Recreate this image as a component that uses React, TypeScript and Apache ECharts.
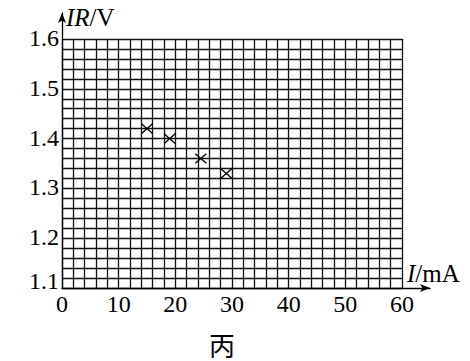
import React, { useEffect, useRef } from "react";
import * as echarts from "echarts";

const currentMA = [15, 19, 24.5, 29];
const irVolts = [1.42, 1.4, 1.36, 1.33];
const xTickValues = [0, 10, 20, 30, 40, 50, 60];
const yTickValues = [1.1, 1.2, 1.3, 1.4, 1.5, 1.6];

const SERIF = "Liberation Serif";

export default function App() {
  const ref = useRef<HTMLDivElement>(null);
  useEffect(() => {
    if (!ref.current) return;
    const chart = echarts.init(ref.current, null, { renderer: "svg" });
    const pts = currentMA.map((x, i) => [x, irVolts[i]]);
    const gridLine = { show: true, lineStyle: { color: "#111", width: 1.3, type: "solid" as const } };
    const arrowLine = {
      show: true,
      onZero: false,
      symbol: ["none", "arrow"],
      symbolSize: [6, 10],
      lineStyle: { color: "#000", width: 1.3 },
    };
    chart.setOption({
      animation: false,
      backgroundColor: "#fff",
      grid: [
        { left: 62, top: 39, width: 340, height: 249, containLabel: false },
        { left: 62, top: 13, width: 368, height: 275, containLabel: false },
      ],
      xAxis: [
        {
          type: "value",
          gridIndex: 0,
          min: 0,
          max: 60,
          interval: 2,
          axisLine: { show: false },
          axisTick: { show: false },
          axisLabel: { show: false },
          splitLine: gridLine,
        },
        {
          type: "value",
          gridIndex: 1,
          min: 0,
          max: 1,
          axisLine: arrowLine,
          axisTick: { show: false },
          axisLabel: { show: false },
          splitLine: { show: false },
        },
      ],
      yAxis: [
        {
          type: "value",
          gridIndex: 0,
          min: 1.1,
          max: 1.6,
          interval: 0.02,
          axisLine: { show: false },
          axisTick: { show: false },
          axisLabel: { show: false },
          splitLine: gridLine,
        },
        {
          type: "value",
          gridIndex: 1,
          min: 0,
          max: 1,
          axisLine: arrowLine,
          axisTick: { show: false },
          axisLabel: { show: false },
          splitLine: { show: false },
        },
      ],
      series: [
        {
          type: "custom",
          xAxisIndex: 0,
          yAxisIndex: 0,
          data: pts,
          renderItem: (params: any, api: any) => {
            const p = api.coord([api.value(0), api.value(1)]);
            const w = 5.5;
            const h = 4.8;
            const st = { stroke: "#000", lineWidth: 1.3 };
            return {
              type: "group",
              children: [
                { type: "line", shape: { x1: p[0] - w, y1: p[1] - h, x2: p[0] + w, y2: p[1] + h }, style: st },
                { type: "line", shape: { x1: p[0] - w, y1: p[1] + h, x2: p[0] + w, y2: p[1] - h }, style: st },
              ],
            };
          },
        },
      ],
    });

    const labels: any[] = [];
    xTickValues.forEach((v) => {
      const p = chart.convertToPixel({ gridIndex: 0 } as any, [v, 1.1]) as number[];
      labels.push({
        type: "text",
        x: p[0],
        y: p[1] + 4,
        style: {
          text: String(v),
          fontFamily: SERIF,
          fontSize: 24,
          fill: "#000",
          textAlign: "center",
          textVerticalAlign: "top",
        },
      });
    });
    yTickValues.forEach((v) => {
      const p = chart.convertToPixel({ gridIndex: 0 } as any, [0, v]) as number[];
      labels.push({
        type: "text",
        x: p[0] - 3,
        y: p[1] - (v === 1.1 ? 7 : 1),
        style: {
          text: v.toFixed(1),
          fontFamily: SERIF,
          fontSize: 24,
          fill: "#000",
          textAlign: "right",
          textVerticalAlign: "middle",
        },
      });
    });
    labels.push(
      {
        type: "text",
        x: 66,
        y: 30,
        style: {
          text: "{i|IR}/V",
          fontFamily: SERIF,
          fontSize: 25,
          fill: "#000",
          textVerticalAlign: "bottom",
          rich: { i: { fontStyle: "italic", fontFamily: SERIF, fontSize: 25 } },
        },
      },
      {
        type: "text",
        x: 407,
        y: 286,
        style: {
          text: "{i|I}/mA",
          fontFamily: SERIF,
          fontSize: 25,
          fill: "#000",
          textVerticalAlign: "bottom",
          rich: { i: { fontStyle: "italic", fontFamily: SERIF, fontSize: 25 } },
        },
      },
      {
        type: "text",
        x: 222,
        y: 344,
        style: {
          text: "丙",
          fontFamily: "Noto Sans CJK SC",
          fontSize: 26,
          fill: "#000",
          textAlign: "center",
          textVerticalAlign: "middle",
        },
      }
    );
    chart.setOption({ graphic: labels });
    return () => chart.dispose();
  }, []);
  return (
    <div
      ref={ref}
      style={{ position: "fixed", left: 0, top: 0, width: 470, height: 361 }}
    />
  );
}
